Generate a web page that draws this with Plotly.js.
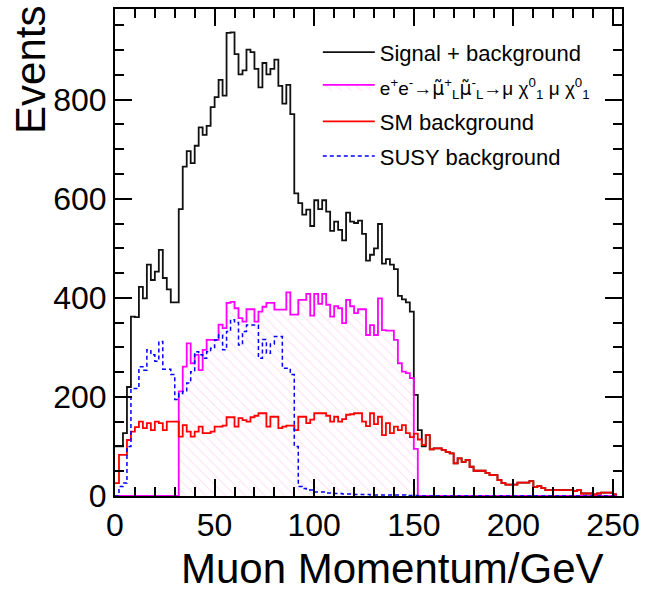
<!DOCTYPE html>
<html>
<head>
<meta charset="utf-8">
<script src="https://cdn.plot.ly/plotly-3.0.1.min.js"></script>
<style>html,body{margin:0;padding:0;background:#fff;}#chart{width:646px;height:592px;}</style>
</head>
<body>
<div id="chart"></div>
<script>
// Histogram binning (GeV)
const binStart = 0;
const binWidth = 2;

// Signal + background (black)
const totalCounts = [
  100,100,127,220,362,361,422,399,467,436,
  453,497,440,417,391,391,579,665,696,672,
  707,744,729,747,785,805,840,808,935,936,
  892,851,859,901,896,862,825,874,851,862,
  881,828,792,830,771,611,591,568,578,545,
  597,579,597,574,535,554,537,516,572,554,
  551,556,529,475,487,500,549,469,478,467,
  458,404,397,391,372,204,133,100,123,94,
  96,96,93,89,86,66,76,69,73,59,
  51,51,51,46,42,42,32,26,23,23,
  23,27,27,27,30,18,20,16,12,12,
  12,12,12,12,12,10,12,5,5,5,
  3,5,7,7,7,3
];

// Signal e+e- -> smuon_L smuon_L (magenta)
const signalCounts = [
  0,0,0,0,0,0,0,0,0,0,
  0,0,0,0,0,0,211,261,308,268,
  285,254,295,315,315,315,346,339,390,392,
  379,359,352,377,377,352,372,382,390,390,
  376,376,376,411,366,366,396,396,408,364,
  408,388,408,386,362,383,379,349,396,383,
  369,377,377,325,345,325,399,335,334,334,
  315,268,251,248,238,95,0,0,0,0,
  0,0,0,0,0,0,0,0,0,0,
  0,0,0,0,0,0,0,0,0,0,
  0,0,0,0,0,0,0,0,0,0,
  0,0,0,0,0,0,0,0,0,0,
  0,0,0,0,0,0
];

// SM background (red)
const smCounts = [
  26,83,83,113,130,139,150,137,147,133,
  150,147,133,150,150,150,120,143,130,120,
  130,140,127,127,130,140,140,142,159,159,
  140,157,153,150,159,162,167,167,140,160,
  160,137,140,142,142,133,160,160,147,154,
  167,167,167,162,150,160,150,155,164,165,
  167,167,150,141,167,145,160,123,147,127,
  140,133,143,127,119,126,114,103,123,94,
  96,96,93,89,86,66,76,69,73,59,
  51,51,51,46,42,42,32,26,23,23,
  23,27,27,27,30,18,20,16,12,12,
  12,12,12,12,12,10,12,5,5,5,
  3,5,7,7,7,3
];

// SUSY background (blue dashed)
const susyCounts = [
  0,19,26,100,217,217,261,254,295,285,
  272,312,256,256,245,195,207,211,228,251,
  291,285,278,291,298,315,325,295,332,356,
  350,305,332,345,345,345,278,316,288,307,
  322,322,258,258,245,100,19,15,12,12,
  8,8,8,6,6,5,5,4,4,4,
  3,3,3,3,2,2,2,2,2,2,
  2,2,2,1,1,1,0,0,0,0,
  0,0,0,0,0,0,0,0,0,0,
  0,0,0,0,0,0,0,0,0,0,
  0,0,0,0,0,0,0,0,0,0,
  0,0,0,0,0,0,0,0,0,0,
  0,0,0,0,0,0
];

const MU_T = '<span style="font-family:DejaVu Sans">\u03bc\u0303</span>';
const seriesNames = [
  'Signal + background',
  '<span style="font-size:19px">e<sup>+</sup>e<sup>-</sup>\u2192' + MU_T + '<sup>+</sup><sub>L</sub>' + MU_T + '<sup>-</sup><sub>L</sub>\u2192\u03bc \u03c7<sup>0</sup><sub>1</sub> \u03bc \u03c7<sup>0</sup><sub>1</sub></span>',
  'SM background',
  'SUSY background'
];

const xTickVals = [0, 50, 100, 150, 200, 250];
const yTickVals = [0, 200, 400, 600, 800];

[totalCounts, signalCounts, smCounts, susyCounts].forEach((a, i) => {
  if (a.length !== totalCounts.length) throw new Error('length mismatch in series ' + i + ': ' + a.length + ' vs ' + totalCounts.length);
});

function stepXY(counts) {
  const xs = [], ys = [];
  for (let i = 0; i < counts.length; i++) {
    xs.push(binStart + i * binWidth);
    ys.push(counts[i]);
  }
  xs.push(binStart + counts.length * binWidth);
  ys.push(counts[counts.length - 1]);
  return {x: xs, y: ys};
}

const tot = stepXY(totalCounts), sig = stepXY(signalCounts), sm = stepXY(smCounts), su = stepXY(susyCounts);

const traces = [
  {x: tot.x, y: tot.y, type: 'scatter', mode: 'lines', name: seriesNames[0], legendgroup: 'a',
   line: {shape: 'hv', color: '#111111', width: 1.8}},
  {x: sig.x, y: sig.y, type: 'scatter', mode: 'lines', name: seriesNames[1], legendgroup: 'b',
   line: {shape: 'hv', color: '#ff00ff', width: 1.8}, fill: 'tozeroy',
   fillcolor: 'rgba(255,255,255,0)',
   fillpattern: {shape: '\\', fgcolor: 'rgba(255,160,235,0.35)', bgcolor: 'rgba(255,255,255,0)', size: 7, solidity: 0.15}},
  {x: sm.x, y: sm.y, type: 'scatter', mode: 'lines', name: seriesNames[2], legendgroup: 'c',
   line: {shape: 'hv', color: '#ff0000', width: 1.8}},
  {x: su.x, y: su.y, type: 'scatter', mode: 'lines', name: seriesNames[3], legendgroup: 'd',
   line: {shape: 'hv', color: '#0000ff', width: 1.5, dash: '4px,3px'}}
];

const FONT = 'Liberation Sans, Arial, Helvetica, sans-serif';

const axisCommon = {
  ticks: 'inside', ticklen: 17, tickwidth: 2, tickcolor: '#000',
  showline: true, linewidth: 2, linecolor: '#000', mirror: 'ticks',
  showgrid: false, zeroline: false,
  tickfont: {family: FONT, size: 32, color: '#000'}
};

const layout = {
  width: 646, height: 592,
  margin: {l: 115, r: 24, t: 9, b: 96},
  paper_bgcolor: '#fff', plot_bgcolor: '#fff',
  showlegend: true,
  xaxis: Object.assign({}, axisCommon, {
    range: [0, 254.5], tickmode: 'array', tickvals: xTickVals,
    minor: {dtick: 10, tick0: 0, ticklen: 9, tickwidth: 2, tickcolor: '#000', ticks: 'inside', showgrid: false}
  }),
  yaxis: Object.assign({}, axisCommon, {
    range: [0, 983], tickmode: 'array', tickvals: yTickVals,
    minor: {dtick: 50, tick0: 0, ticklen: 9, tickwidth: 2, tickcolor: '#000', ticks: 'inside', showgrid: false}
  }),
  legend: {
    x: 0.4, y: 0.954, xanchor: 'left', yanchor: 'top',
    bgcolor: 'rgba(0,0,0,0)', borderwidth: 0,
    font: {family: FONT, size: 22, color: '#000'},
    traceorder: 'grouped', tracegroupgap: 3, itemwidth: 52
  },
  annotations: [
    {text: 'Events', xref: 'paper', yref: 'paper', x: -0.168, y: 1.01, xanchor: 'center', yanchor: 'top',
     textangle: -90, showarrow: false, font: {family: FONT, size: 42, color: '#000'}},
    {text: 'Muon Momentum/GeV', xref: 'paper', yref: 'paper', x: 0.968, y: -0.148, xanchor: 'right', yanchor: 'middle',
     showarrow: false, font: {family: FONT, size: 42, color: '#000'}}
  ]
};

Plotly.newPlot('chart', traces, layout, {displayModeBar: false, staticPlot: true});
</script>
</body>
</html>
